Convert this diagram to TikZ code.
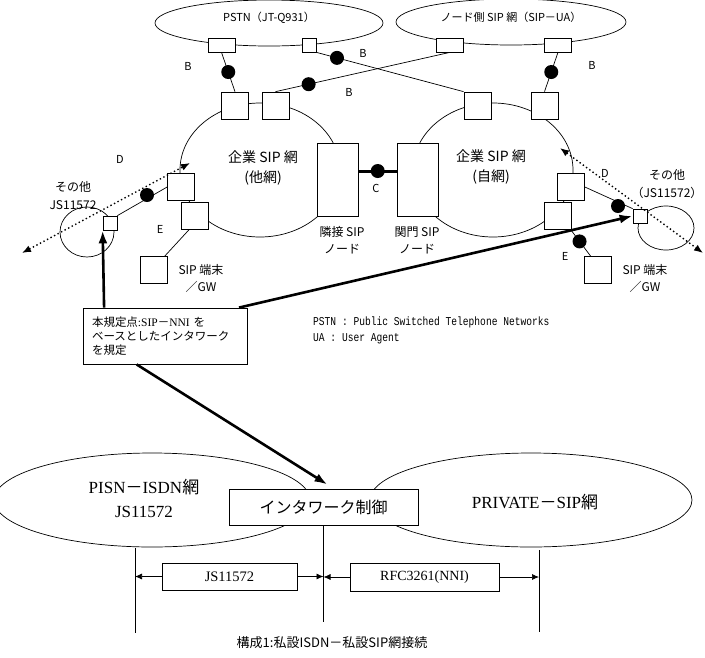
\documentclass[tikz,border=0pt]{standalone}
\usepackage{fontspec}
\setmainfont{Noto Sans CJK JP}
\newfontfamily\serif{Liberation Serif}
\newfontfamily\legendfont[FakeStretch=0.8]{Liberation Mono}
\usetikzlibrary{arrows.meta,shapes.geometric}
\begin{document}
\begin{tikzpicture}[x=1pt,y=-1pt,
  ell/.style={ellipse, draw, line width=0.7pt, inner sep=0pt},
  sqbox/.style={draw, fill=white, line width=0.7pt, minimum width=27pt, minimum height=27pt, inner sep=0pt},
  flatbox/.style={sqbox, minimum height=14pt},
  smallbox/.style={sqbox, minimum width=14pt, minimum height=14pt},
  tallbox/.style={sqbox, minimum width=41pt, minimum height=73pt},
  bdot/.style={circle, fill=black, minimum size=14pt, inner sep=0pt},
  ln/.style={line width=0.7pt},
  lbl/.style={font=\fontsize{11}{13}\selectfont, inner sep=0pt},
  mlbl/.style={font=\fontsize{12}{14}\selectfont, inner sep=0pt},
  big/.style={font=\fontsize{14}{16}\selectfont, inner sep=0pt},
  tbox/.style={draw, fill=white, line width=0.8pt, inner sep=0pt},
  thickarrow/.style={line width=2.6pt, -{Latex[length=13pt,width=9pt]}},
  dotarrow/.style={line width=1.4pt, dash pattern=on 1.4pt off 2.6pt, {Latex[length=9pt,width=7pt]}-{Latex[length=9pt,width=7pt]}},
  smallarrow/.style={line width=0.7pt, -{Latex[length=7pt,width=6pt]}}
]
\useasboundingbox (0,0) rectangle (705,657);

% ---- ellipses (top) ----
\node[ell, minimum width=228pt, minimum height=46pt] (pstn) at (269,23) {};
\node[ell, minimum width=230pt, minimum height=46pt] (nsip) at (511,22) {};
\node[ell, minimum width=160pt, minimum height=134pt] (ent1) at (260,170) {};
\node[ell, minimum width=160pt, minimum height=134pt] (ent2) at (493,170) {};
\node[ell, minimum width=54pt, minimum height=50pt] (oth1) at (87,232) {};
\node[ell, minimum width=56pt, minimum height=44pt] (oth2) at (666,228) {};

\node[lbl] (pstnt) at (269,18) {PSTN（JT-Q931）};
\node[lbl] (nsipt) at (511,17) {ノード側 SIP 網（SIP－UA）};

% ---- boxes ----
\node[flatbox] (p1) at (221.5,45) {};
\node[smallbox] (p2) at (309,45) {};
\node[flatbox] (n1) at (450,45) {};
\node[flatbox] (n2) at (558,45) {};
\node[sqbox] (l1) at (235,105.5) {};
\node[sqbox] (l2) at (275.5,105.5) {};
\node[sqbox] (r1) at (477.5,105.5) {};
\node[sqbox] (r2) at (544.5,105.5) {};
\node[sqbox] (l3) at (181,187) {};
\node[sqbox] (l4) at (194.5,216) {};
\node[sqbox] (r3) at (571,187) {};
\node[sqbox] (r4) at (558,215.5) {};
\node[tallbox] (adj) at (337.5,179.5) {};
\node[tallbox] (gate) at (418,179.5) {};
\node[smallbox] (ls) at (110,223) {};
\node[smallbox] (rs) at (640,216) {};
\node[sqbox] (lt) at (153.5,270) {};
\node[sqbox] (rt) at (598,270) {};

% ---- connectors ----
\draw[ln] (p1.south) -- node[bdot, pos=0.5] (d1) {} (l1.north);
\draw[ln] (p2.south east) -- node[bdot, pos=0.14] (d2) {} (r1.north west);
\draw[ln] (n1.south) -- node[bdot, pos=0.81] (d3) {} (l2.north);
\draw[ln] (n2.south) -- node[bdot, pos=0.5] (d4) {} (r2.north);
\draw[ln] (ls.north east) -- (l3.west);
\node[bdot] (d5) at (147,195) {};
\draw[ln] (r3.east) -- (rs.north west);
\node[bdot] (d6) at (618,206) {};
\draw[ln] (l4.248) -- (lt.51);
\draw[ln] (r4.312) -- node[bdot, pos=0.45] (d7) {} (rt.118);
\draw[line width=3pt] ([yshift=8.5pt]adj.east) -- node[bdot] (d8) {} ([yshift=8.5pt]gate.west);

% dotted D arrows
\coordinate (dl1) at (22,253);
\coordinate (dl2) at (190,163);
\coordinate (dr1) at (560,148);
\coordinate (dr2) at (703,253);
\draw[dotarrow] (dl1) -- (dl2);
\draw[dotarrow] (dr1) -- (dr2);

% ---- labels (top) ----
\node[lbl] (bA) at (188,66) {B};
\node[lbl] (bB) at (363,53) {B};
\node[lbl] (bC) at (349,92) {B};
\node[lbl] (bD) at (592,65) {B};
\node[lbl] (cC) at (376,188) {C};
\node[lbl] (dL) at (120,159) {D};
\node[lbl] (dR) at (605,173) {D};
\node[lbl] (eL) at (160,229) {E};
\node[lbl] (eR) at (565,256) {E};

\node[big] (ent1a) at (263,157) {企業 SIP 網};
\node[big] (ent1b) at (263,178) {(他網)};
\node[big] (ent2a) at (491,156) {企業 SIP 網};
\node[big] (ent2b) at (491,177) {(自網)};

\node[mlbl] (adja) at (342,232) {隣接 SIP};
\node[mlbl] (adjb) at (342,249) {ノード};
\node[mlbl] (gatea) at (417,232) {関門 SIP};
\node[mlbl] (gateb) at (417,249) {ノード};

\node[mlbl] (oth1a) at (73,187) {その他};
\node[mlbl] (oth1b) at (73,205) {JS11572};
\node[mlbl] (oth2a) at (667,175) {その他};
\node[mlbl] (oth2b) at (667,193) {（JS11572）};

\node[mlbl] (lta) at (201,270) {SIP 端末};
\node[mlbl] (ltb) at (201,287) {／GW};
\node[mlbl] (rta) at (645,270) {SIP 端末};
\node[mlbl] (rtb) at (645,287) {／GW};

% ---- legend ----
\node[anchor=west, inner sep=0pt, font=\legendfont\fontsize{12}{14}\selectfont] (leg1) at (313,322) {PSTN : Public Switched Telephone Networks};
\node[anchor=west, inner sep=0pt, font=\legendfont\fontsize{12}{14}\selectfont] (leg2) at (313,339) {UA : User Agent};

% ---- bottom ----
\node[ell, minimum width=316pt, minimum height=94pt] (pisn) at (152,500) {};
\node[ell, minimum width=322pt, minimum height=94pt] (priv) at (531,500) {};
\node[inner sep=0pt, font=\fontsize{17}{19}\selectfont] (pisna) at (144,487) {{\serif PISN}－{\serif ISDN}網};
\node[inner sep=0pt, font=\serif\fontsize{17}{19}\selectfont] (pisnb) at (144,512) {JS11572};
\node[inner sep=0pt, font=\fontsize{17}{19}\selectfont] (priva) at (535,502) {{\serif PRIVATE}－{\serif SIP}網};

\node[tbox, minimum width=189pt, minimum height=36pt, font=\fontsize{16}{18}\selectfont] (iw) at (323.5,507) {インタワーク制御};

\coordinate (v1t) at (135,548);
\coordinate (v1b) at (135,633);
\coordinate (v3t) at (539,550);
\coordinate (v3b) at (539,632);
\draw[ln] (v1t) -- (v1b);
\draw[ln] (iw.south) -- ++(0,97) coordinate (v2b);
\draw[ln] (v3t) -- (v3b);

\node[tbox, line width=0.7pt, minimum width=135pt, minimum height=27pt, font=\serif\fontsize{14.5}{16}\selectfont] (js) at (229.5,576.5) {JS11572};
\node[tbox, line width=0.7pt, minimum width=149pt, minimum height=28pt, font=\serif\fontsize{14}{16}\selectfont] (rfc) at (424.5,577) {RFC3261(NNI)};
\draw[smallarrow] (js.west) -- (js.west -| v1t);
\draw[smallarrow] (js.east) -- (js.east -| v2b);
\draw[smallarrow] (rfc.west) -- (rfc.west -| v2b);
\draw[smallarrow] (rfc.east) -- (rfc.east -| v3t);

\node[inner sep=0pt, font=\fontsize{13}{15}\selectfont] (cap) at (332,643) {構成1:私設ISDN－私設SIP網接続};

% ---- explanation box and thick arrows ----
\node[tbox, minimum width=164pt, minimum height=56pt, text width=146pt, inner xsep=9pt, align=left, font=\fontsize{11.5}{14}\selectfont] (kb) at (165,336)
  {本規定点{\serif :SIP}－{\serif NNI} を\\ベースとしたインタワーク\\を規定};
\draw[thickarrow] (kb.155) -- (ls.south west);
\draw[thickarrow] (kb.21) -- (rs.west);
\draw[thickarrow] (kb.225) -- ([xshift=4pt,yshift=4pt]iw.north);
\end{tikzpicture}
\end{document}
